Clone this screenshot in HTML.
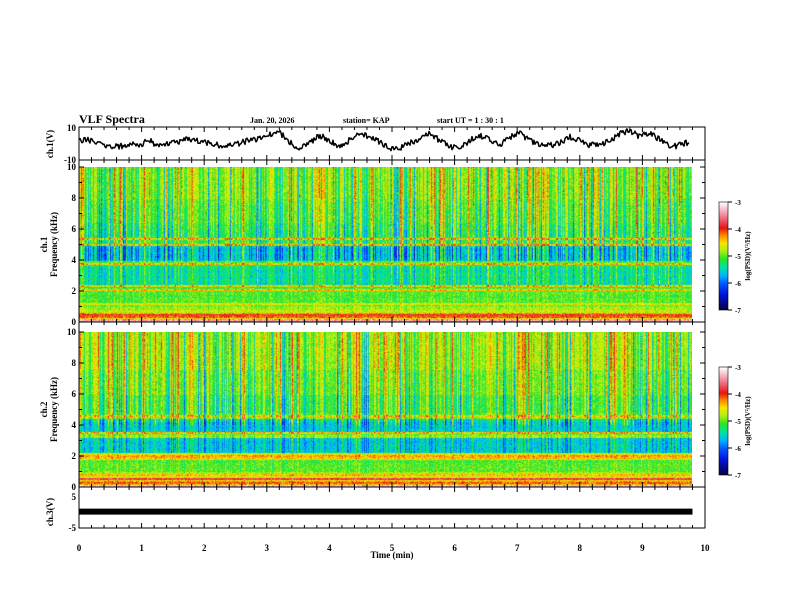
<!DOCTYPE html>
<html><head><meta charset="utf-8"><style>
body{margin:0;background:#fff;width:792px;height:612px;overflow:hidden;position:relative}
svg{position:absolute;left:0;top:0}
canvas{position:absolute}
text{font-family:"Liberation Serif",serif;font-weight:bold;fill:#000}
</style></head><body>
<canvas id="sp1" style="left:79px;top:167px" width="613" height="155"></canvas>
<canvas id="sp2" style="left:79px;top:332px" width="613" height="155"></canvas>
<canvas id="cb1" style="left:719px;top:202px" width="9" height="108"></canvas>
<canvas id="cb2" style="left:719px;top:367px" width="9" height="108"></canvas>
<svg id="svg" width="792" height="612"></svg>
<script>
// ---- data ----
const waveTimes = [0,0.16,0.32,0.48,0.64,0.8,0.96,1.12,1.28,1.44,1.6,1.76,1.92,2.08,2.24,2.4,2.56,2.72,2.88,3.04,3.2,3.36,3.52,3.68,3.84,4,4.16,4.32,4.48,4.64,4.8,4.96,5.12,5.28,5.44,5.6,5.76,5.92,6.08,6.24,6.4,6.56,6.72,6.88,7.04,7.2,7.36,7.52,7.68,7.84,8,8.16,8.32,8.48,8.64,8.8,8.96,9.12,9.28,9.44,9.6,9.76];
const waveValues = [2,2,1,-2,-2,0,-1,2,-2,0,1,3,1,0,-1,-1,0,2,3,5,7,1,-3,0,5,2,-2,2,7,4,1,-3,-3,0,3,6,2,-2,-3,2,5,2,-1,4,6,2,-1,-1,0,4,2,-1,0,1,6,8,4,7,2,-2,-1,1];
const ch3Value = 0.3;
// frequency profile, 0.2 kHz bins from 0 to 10 kHz (log PSD)
const freqProfile1 = [-4.4,-4.5,-4.3,-4.7,-4.8,-4.9,-5.0,-5.0,-5.05,-5.0,-5.0,-5.2,-5.35,-5.3,-5.35,-5.3,-5.35,-5.3,-5.2,-5.0,-5.55,-5.6,-5.55,-5.6,-5.5,-5.05,-5.1,-5.1,-5.15,-5.15,-5.1,-5.1,-5.0,-5.0,-5.0,-5.0,-5.0,-5.0,-4.95,-4.95,-4.85,-4.85,-4.85,-4.85,-4.85,-4.85,-4.85,-4.85,-4.85,-4.85];
const freqProfile2 = [-4.4,-4.3,-4.5,-4.6,-4.8,-5.0,-5.0,-5.0,-5.05,-4.6,-4.6,-5.55,-5.6,-5.55,-5.6,-5.55,-4.8,-5.0,-5.55,-5.6,-5.55,-5.4,-4.85,-5.0,-5.1,-5.1,-5.1,-5.1,-5.1,-5.1,-4.95,-4.95,-4.95,-4.95,-4.95,-4.95,-4.95,-4.95,-4.8,-4.8,-4.8,-4.8,-4.8,-4.8,-4.8,-4.8,-4.8,-4.8,-4.8,-4.8];
// narrow horizontal lines [kHz, level]
const lines1 = [[0.15,-3.4],[0.35,-4.1],[0.5,-3.9],[1.2,-4.6],[2.1,-4.4],[2.35,-4.5],[3.8,-4.4],[5.0,-4.4],[5.4,-4.4]];
const lines2 = [[0.1,-3.3],[0.3,-4.1],[0.55,-3.8],[0.8,-4.4],[1.9,-4.4],[2.05,-4.3],[3.5,-4.4],[4.6,-4.5]];
// column burst intensity per 0.1 min
const colBurst = [0.8,0.5,0.9,0.3,0.7,0.4,0.9,0.2,0.5,0.3,0.6,0.8,0.3,0.5,0.2,0.7,0.4,0.3,0.8,0.2,0.5,0.6,0.3,0.7,0.4,0.5,0.9,0.3,0.6,0.4,0.8,0.5,0.3,0.7,0.9,0.2,0.6,0.4,0.3,0.7,0.5,0.3,0.6,0.4,0.8,0.2,0.5,0.7,0.3,0.6,0.4,0.9,0.5,0.3,0.7,0.5,0.9,0.6,0.3,0.5,0.8,0.4,0.7,0.3,0.6,0.9,0.5,0.4,0.7,0.3,0.6,0.5,0.8,0.4,0.6,0.3,0.7,0.5,0.4,0.8,0.3,0.5,0.6,0.9,0.4,0.7,0.5,0.3,0.8,0.6,0.4,0.7,0.5,0.3,0.6,0.8,0.4,0.5];
const xTicks = [0,1,2,3,4,5,6,7,8,9,10];
const specTicks = [0,2,4,6,8,10];
const cbTicks = [-3,-4,-5,-6,-7];

// ---- scales ----
const X0=79,X1=705;
const xs=t=>X0+(X1-X0)*t/10;
const yw=v=>143.5-v*(33/20);
const y3=v=>512.5-v*(31/10);

function cmap(v){
  const s=[[-7,[10,0,60]],[-6.4,[0,20,220]],[-6.0,[0,90,255]],[-5.7,[0,180,255]],[-5.4,[0,228,160]],[-5.1,[40,228,40]],[-4.8,[170,240,20]],[-4.5,[250,230,0]],[-4.2,[250,130,0]],[-3.95,[230,20,20]],[-3.5,[240,130,150]],[-3,[255,255,255]]];
  if(v<=-7)return s[0][1]; if(v>=-3)return s[s.length-1][1];
  for(let i=0;i<s.length-1;i++){if(v<=s[i+1][0]){const f=(v-s[i][0])/(s[i+1][0]-s[i][0]);return s[i][1].map((c,k)=>Math.round(c+(s[i+1][1][k]-c)*f));}}
}
function hash(a,b){let h=(a*374761393+b*668265263)|0;h=(h^(h>>>13))*1274126177|0;return ((h^(h>>>16))>>>0)/4294967296;}
function drawSpec(id,prof,lines,seed){
  const c=document.getElementById(id),g=c.getContext('2d');const W=c.width,H=c.height;
  const img=g.createImageData(W,H);
  for(let x=0;x<W;x++){
    const t=x/(X1-X0)*10;const ci=Math.min(colBurst.length-1,Math.floor(t*10));
    const r=(hash(x,seed)-0.5)*2;
    const s=Math.sign(r)*r*r;
    const stripe=s*0.85+(colBurst[ci]-0.5)*0.35;
    for(let y=0;y<H;y++){
      const f=(H-y)/H*10;const fi=Math.min(prof.length-1,Math.floor(f/0.2));
      const hiW=f>4?1:(f>2.2?0.55:0.2);
      let v=prof[fi];
      for(const L of lines){if(Math.abs(f-L[0])<0.07)v=L[1];}
      v+=stripe*hiW+(hash(x,y+seed*999)-0.5)*0.5;
      const col=cmap(v);const o=(y*W+x)*4;
      img.data[o]=col[0];img.data[o+1]=col[1];img.data[o+2]=col[2];img.data[o+3]=255;
    }
  }
  g.putImageData(img,0,0);
}
drawSpec('sp1',freqProfile1,lines1,1);drawSpec('sp2',freqProfile2,lines2,2);
['cb1','cb2'].forEach(id=>{const c=document.getElementById(id),g=c.getContext('2d');for(let y=0;y<c.height;y++){const v=-3-4*y/c.height;const col=cmap(v);g.fillStyle=`rgb(${col})`;g.fillRect(0,y,c.width,1);}});

// ---- svg ----
const svg=document.getElementById('svg');const NS='http://www.w3.org/2000/svg';
function el(tag,attrs,parent){const e=document.createElementNS(NS,tag);for(const k in attrs)e.setAttribute(k,attrs[k]);(parent||svg).appendChild(e);return e;}
function txt(s,x,y,size,anchor,rot,name){const e=el('text',{x,y,'font-size':size,'text-anchor':anchor||'start'});if(rot)e.setAttribute('transform',`rotate(-90 ${x} ${y})`);e.textContent=s;

return e;}

const panels=[[127,160,'ch1-panel'],[160,322,'spec1-panel'],[322,487,'spec2-panel'],[487,528,'ch3-panel']];
panels.forEach(p=>{const r=el('rect',{x:X0,y:p[0],width:X1-X0,height:p[1]-p[0],fill:'none',stroke:'#000','stroke-width':1});


  for(let i=0;i<=50;i++){const t=i*0.2;const x=xs(t);const L=(i%5==0)?5:3;
    el('line',{x1:x,y1:p[0],x2:x,y2:p[0]+L,stroke:'#000'});el('line',{x1:x,y1:p[1],x2:x,y2:p[1]-L,stroke:'#000'});}
});
xTicks.forEach(t=>txt(String(t),xs(t),551,9,'middle',0,'x-tick-label'));
txt('Time  (min)',392,558,9,'middle',0,'x-axis-title');
txt('VLF Spectra',79,123,12,'start',0,'chart-title');
txt('Jan. 20, 2026',250,123,8,'start',0,'date-label');
txt('station= KAP',343,123,8,'start',0,'station-label');
txt('start  UT =   1 : 30 : 1',437,123,8,'start',0,'start-time-label');
txt('10',76,131,9,'end',0,'y-tick-label');txt('-10',76,163,9,'end',0,'y-tick-label');
txt('ch.1(V)',53,144,9,'middle',true,'ch1-y-title');
[[167,322,'ch.1'],[332,487,'ch.2']].forEach(([top,bot,lab])=>{
  specTicks.forEach(f=>{const y=bot-(bot-top)*f/10;txt(String(f),76,y+3,9,'end',0,'y-tick-label');
    el('line',{x1:X0,y1:y,x2:X0+5,y2:y,stroke:'#000'});el('line',{x1:X1,y1:y,x2:X1-5,y2:y,stroke:'#000'});
    const ym=y-(bot-top)/10; if(f<10){el('line',{x1:X0,y1:ym,x2:X0+3,y2:ym,stroke:'#000'});el('line',{x1:X1,y1:ym,x2:X1-3,y2:ym,stroke:'#000'});}});
  const mid=(top+bot)/2;txt(lab,47,mid,9,'middle',true,'channel-label');txt('Frequency  (kHz)',57,mid,9,'middle',true,'freq-axis-title');
});
txt('5',76,500,9,'end',0,'y-tick-label');txt('-5',76,531,9,'end',0,'y-tick-label');
txt('ch.3(V)',53,512,9,'middle',true,'ch3-y-title');
const bar=el('line',{x1:xs(0),y1:y3(ch3Value),x2:xs(9.8),y2:y3(ch3Value),stroke:'#000','stroke-width':6});


let d='';const xa=xs(waveTimes[0]),xb=xs(waveTimes[waveTimes.length-1]);
for(let x=xa,k=0;x<=xb;x+=1,k++){
  const t=(x-X0)/(X1-X0)*10;let i=0;while(i<waveTimes.length-2&&waveTimes[i+1]<t)i++;
  const f=(t-waveTimes[i])/(waveTimes[i+1]-waveTimes[i]);
  let v=waveValues[i]+(waveValues[i+1]-waveValues[i])*Math.min(1,Math.max(0,f));
  v+=(hash(k,7)-0.5)*3.5;
  v=Math.max(-10,Math.min(10,v));
  d+=(k?'L':'M')+x.toFixed(1)+' '+yw(v).toFixed(1);
}
const wp=el('path',{d,fill:'none',stroke:'#000','stroke-width':1.5,'stroke-linejoin':'round'});


[[202,310],[367,475]].forEach(([top,bot])=>{
  el('rect',{x:719,y:top,width:9,height:bot-top,fill:'none',stroke:'#000','stroke-width':0.6});
  cbTicks.forEach(v=>{const y=top+(bot-top)*(-3-v)/4;el('line',{x1:728,y1:y,x2:732,y2:y,stroke:'#000'});txt(String(v),735,y+3,7,'start',0,'colorbar-tick');});
  txt('log(PSD)(V²/Hz)',750,(top+bot)/2,7,'middle',true,'colorbar-title');
});
</script>
</body></html>
